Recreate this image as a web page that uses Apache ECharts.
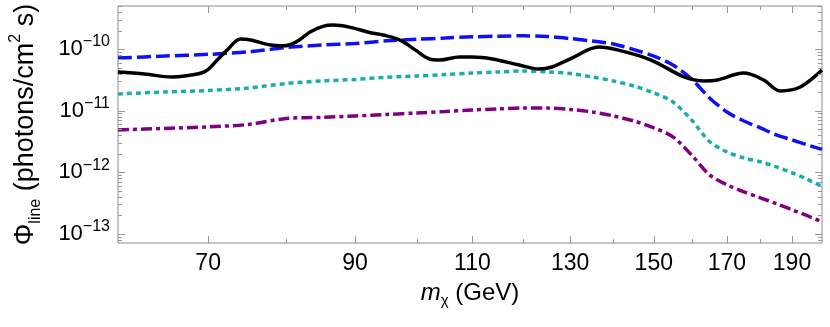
<!DOCTYPE html>
<html>
<head>
<meta charset="utf-8">
<script src="https://cdn.jsdelivr.net/npm/echarts@6/dist/echarts.min.js"></script>
<style>html,body{margin:0;padding:0;background:#fff;}#c{width:830px;height:327px;}</style>
</head>
<body>
<div id="c"></div>
<script>
// ---- data ----
const massX = [60,65,70,75,80,85,90,95,100,105,110,115,120,125,130,135,140,145,150,155,160,165,170,175,180,185,190,195,200];
const blueDashed = [7.15e-11,7.7e-11,8.2e-11,9.0e-11,1.06e-10,1.16e-10,1.23e-10,1.36e-10,1.44e-10,1.51e-10,1.58e-10,1.62e-10,1.64e-10,1.60e-10,1.48e-10,1.35e-10,1.21e-10,9.8e-11,7.7e-11,5.5e-11,3.27e-11,1.61e-11,9.5e-12,6.8e-12,5.25e-12,4.04e-12,3.35e-12,2.78e-12,2.35e-12];
const cyanDotted = [1.87e-11,2.01e-11,2.12e-11,2.33e-11,2.76e-11,3.03e-11,3.21e-11,3.49e-11,3.65e-11,3.86e-11,4.08e-11,4.24e-11,4.40e-11,4.27e-11,4.01e-11,3.52e-11,3.03e-11,2.51e-11,1.94e-11,1.38e-11,7.07e-12,3.16e-12,2.14e-12,1.71e-12,1.48e-12,1.22e-12,9.8e-13,7.7e-13,5.9e-13];
const purpleDashDot = [4.86e-12,5.15e-12,5.45e-12,5.97e-12,7.48e-12,7.76e-12,8.2e-12,8.67e-12,9.18e-12,9.7e-12,1.026e-11,1.066e-11,1.107e-11,1.10e-11,1.045e-11,9.53e-12,8.2e-12,6.8e-12,5.25e-12,3.75e-12,1.91e-12,9.1e-13,6.25e-13,4.81e-13,3.85e-13,3.08e-13,2.46e-13,1.97e-13,1.57e-13];
const blackX = [60,62.8,65.8,67.2,69.6,71.1,72.3,74.0,75.3,77.9,79.7,81.4,83.4,85.3,86.7,89.3,92.4,94.4,97.2,99.8,102.2,104.0,107.6,110.0,113.8,119.2,123.2,126.0,130.4,136.5,141.2,149.3,158.0,163.5,167.3,174.9,181.0,186.2,192.7,200];
const blackSolid = [4.24e-11,3.93e-11,3.52e-11,3.65e-11,4.29e-11,6.64e-11,9.6e-11,1.45e-10,1.40e-10,1.16e-10,1.13e-10,1.31e-10,1.91e-10,2.36e-10,2.45e-10,2.25e-10,1.84e-10,1.69e-10,1.40e-10,9.6e-11,6.9e-11,6.64e-11,7.42e-11,7.42e-11,6.9e-11,5.5e-11,4.74e-11,5.11e-11,7.15e-11,1.08e-10,9.6e-11,6.64e-11,3.52e-11,3.03e-11,3.15e-11,4.08e-11,3.15e-11,2.09e-11,2.42e-11,4.57e-11];
const xMajorTicks = [70,90,110,130,150,170,190];
const xMinorTicks = [80,100,120,140,160,180];
const xRange = [60, 200];
const yRange = [7.1e-14, 5e-10];

const FONT = '"Liberation Sans", Arial, sans-serif';
const zip = (xs, ys) => xs.map((x, i) => [x, ys[i]]);

function renderTicks(params, api) {
  const children = [];
  const st = {stroke: '#9a9a9a', lineWidth: 1};
  const addX = (v, len, label) => {
    const b = api.coord([v, yRange[0]]);
    const t = api.coord([v, yRange[1]]);
    const x = Math.round(b[0]) + 0.5;
    children.push({type: 'line', shape: {x1: x, y1: b[1], x2: x, y2: b[1] - len}, style: st});
    children.push({type: 'line', shape: {x1: x, y1: t[1], x2: x, y2: t[1] + len}, style: st});
    if (label) {
      children.push({type: 'text', style: {text: String(v), x: b[0], y: b[1] + 21, align: 'center', verticalAlign: 'middle', fontSize: 23, fontFamily: FONT, fill: '#000'}});
    }
  };
  xMajorTicks.forEach(v => addX(v, 7, true));
  xMinorTicks.forEach(v => addX(v, 4, false));
  for (let e = -14; e <= -10; e++) {
    for (let k = 1; k <= 9; k++) {
      const v = k * Math.pow(10, e);
      if (v < yRange[0] || v > yRange[1]) continue;
      const len = k === 1 ? 7 : 4;
      const l = api.coord([xRange[0], v]);
      const r = api.coord([xRange[1], v]);
      const y = Math.round(l[1]) + 0.5;
      children.push({type: 'line', shape: {x1: l[0], y1: y, x2: l[0] + len, y2: y}, style: st});
      children.push({type: 'line', shape: {x1: r[0], y1: y, x2: r[0] - len, y2: y}, style: st});
    }
  }
  return {type: 'group', children};
}

const chart = echarts.init(document.getElementById('c'), null, {renderer: 'canvas'});
chart.setOption({
  animation: false,
  backgroundColor: '#fff',
  grid: {left: 113, right: 8, top: 6, bottom: 84, show: true, borderColor: '#8c8c8c', borderWidth: 1},
  xAxis: {
    type: 'log', logBase: 10, min: xRange[0], max: xRange[1],
    axisLine: {show: false}, axisTick: {show: false}, axisLabel: {show: false}, splitLine: {show: false},
    name: '{i|m}{sub|χ}{a| (GeV)}', nameLocation: 'middle', nameGap: 50,
    nameTextStyle: {
      verticalAlign: 'middle', align: 'center',
      rich: {
        i: {fontSize: 24, fontStyle: 'italic', fontFamily: FONT, color: '#000', lineHeight: 30},
        sub: {fontSize: 15, fontFamily: FONT, color: '#000', verticalAlign: 'bottom'},
        a: {fontSize: 24, fontFamily: FONT, color: '#000', lineHeight: 30}
      }
    }
  },
  yAxis: {
    type: 'log', logBase: 10, min: yRange[0], max: yRange[1],
    axisLine: {show: false}, axisTick: {show: false}, splitLine: {show: false},
    axisLabel: {
      margin: 8, showMinLabel: false, showMaxLabel: false,
      formatter: function (v) {
        const lg = Math.log10(v);
        const e = Math.round(lg);
        if (Math.abs(lg - e) > 1e-6) return '';
        return '{b|10}{s|\u2212' + Math.abs(e) + '}';
      },
      rich: {
        b: {fontSize: 22, fontFamily: FONT, color: '#000', lineHeight: 30},
        s: {fontSize: 16, fontFamily: FONT, color: '#000', verticalAlign: 'top'}
      }
    },
    name: '{a|Φ}{sub|line}{a| (photons/cm}{sup|2}{a| s)}', nameLocation: 'middle', nameGap: 92, nameRotate: 90,
    nameTextStyle: {
      verticalAlign: 'middle', align: 'center',
      rich: {
        a: {fontSize: 27, fontFamily: FONT, color: '#000', lineHeight: 36},
        sub: {fontSize: 16, fontFamily: FONT, color: '#000', verticalAlign: 'bottom'},
        sup: {fontSize: 16, fontFamily: FONT, color: '#000', verticalAlign: 'top'}
      }
    }
  },
  series: [
    {type: 'line', data: zip(massX, blueDashed), showSymbol: false, smooth: 0.3,
     lineStyle: {color: '#1010f5', width: 3.5, type: [14, 5]}},
    {type: 'line', data: zip(massX, cyanDotted), showSymbol: false, smooth: 0.3,
     lineStyle: {color: '#1aadad', width: 3.5, type: [5, 4]}},
    {type: 'line', data: zip(massX, purpleDashDot), showSymbol: false, smooth: 0.3,
     lineStyle: {color: '#800080', width: 3.5, type: [11, 4, 4, 4]}},
    {type: 'line', data: zip(blackX, blackSolid), showSymbol: false, smooth: 0.35,
     lineStyle: {color: '#000', width: 3.5}},
    {type: 'custom', data: [[100, 1e-11]], renderItem: renderTicks, clip: false, silent: true, z: 5}
  ]
});
</script>
</body>
</html>
